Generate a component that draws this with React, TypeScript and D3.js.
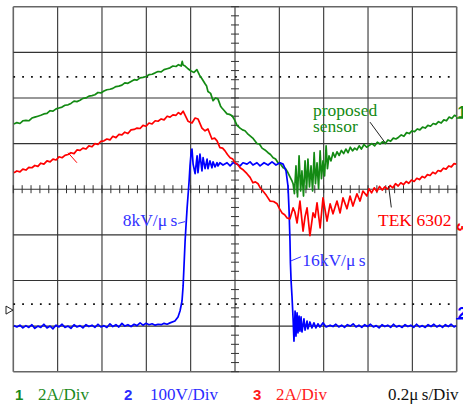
import React from 'react';
import * as d3 from 'd3';

// time in ns (0.2 us/div), amplitude in screen divisions (0 = centre line)
const ch1Proposed: [number, number][] = [
  [3, 1.43], [16, 1.46], [30, 1.44], [43, 1.5], [57, 1.51], [70, 1.5], [84, 1.56], [97, 1.58], [111, 1.6], [124, 1.62],
  [138, 1.65], [152, 1.66], [166, 1.72], [179, 1.71], [193, 1.76], [206, 1.78], [220, 1.8], [233, 1.84], [247, 1.85],
  [260, 1.88], [274, 1.93], [287, 1.92], [301, 1.95], [314, 1.99], [328, 2.0], [341, 2.04], [355, 2.05], [368, 2.07],
  [382, 2.12], [395, 2.11], [409, 2.15], [422, 2.18], [436, 2.19], [449, 2.21], [463, 2.25], [476, 2.26], [490, 2.28],
  [503, 2.33], [517, 2.32], [531, 2.36], [545, 2.4], [558, 2.39], [572, 2.44], [585, 2.45], [599, 2.47], [612, 2.51],
  [626, 2.52], [640, 2.55], [653, 2.58], [667, 2.57], [680, 2.62], [694, 2.64], [707, 2.66], [720, 2.7], [734, 2.69],
  [745, 2.73], [757, 2.7], [762, 2.8], [766, 2.72], [775, 2.7], [788, 2.64], [802, 2.59], [815, 2.56], [828, 2.62],
  [840, 2.5], [851, 2.42], [865, 2.31], [872, 2.26], [878, 2.14], [890, 2.1], [901, 1.94], [912, 2.0], [923, 1.98],
  [935, 1.82], [941, 1.78], [952, 1.72], [964, 1.65], [975, 1.64], [987, 1.61], [998, 1.52], [1009, 1.4], [1023, 1.34],
  [1034, 1.3], [1045, 1.28], [1056, 1.22], [1068, 1.17], [1080, 1.12], [1099, 1.0], [1110, 0.99], [1122, 0.9],
  [1135, 0.86], [1149, 0.8], [1160, 0.76], [1172, 0.69], [1183, 0.66], [1194, 0.58], [1205, 0.55], [1217, 0.47],
  [1228, 0.45], [1239, 0.36], [1248, 0.27], [1253, 0.22], [1258, 0.17], [1262, 0.12], [1268, -0.1], [1275, 0.51],
  [1282, -0.17], [1289, 0.73], [1296, -0.04], [1302, 0.4], [1309, -0.15], [1316, 0.62], [1323, 0.01], [1329, 0.66],
  [1336, 0.05], [1343, 0.51], [1350, -0.04], [1357, 0.8], [1363, 0.12], [1370, 0.58], [1377, 0.01], [1384, 0.84],
  [1390, 0.23], [1397, 0.62], [1404, 0.29], [1411, 0.95], [1417, 0.45], [1424, 0.73], [1433, 0.62], [1442, 0.8],
  [1451, 0.7], [1460, 0.82], [1470, 0.74], [1480, 0.85], [1490, 0.78], [1500, 0.88], [1510, 0.8], [1520, 0.92],
  [1530, 0.84], [1540, 0.9], [1550, 0.86], [1560, 0.95], [1570, 0.88], [1582, 0.98], [1594, 0.92], [1606, 0.96],
  [1618, 1.0], [1630, 0.95], [1642, 1.03], [1654, 0.99], [1666, 1.04], [1678, 1.0], [1690, 1.08], [1702, 1.05],
  [1714, 1.12], [1726, 1.1], [1738, 1.14], [1750, 1.19], [1762, 1.16], [1774, 1.24], [1786, 1.22], [1798, 1.28],
  [1810, 1.26], [1822, 1.32], [1834, 1.3], [1846, 1.36], [1858, 1.34], [1870, 1.4], [1882, 1.38], [1894, 1.44],
  [1906, 1.42], [1918, 1.48], [1930, 1.45], [1942, 1.52], [1954, 1.5], [1966, 1.58], [1978, 1.55], [1990, 1.62],
  [1998, 1.6],
];

const ch3Tek: [number, number][] = [
  [3, 0.36], [16, 0.4], [30, 0.38], [43, 0.44], [57, 0.42], [70, 0.48], [84, 0.47], [97, 0.52], [111, 0.5], [124, 0.57],
  [138, 0.55], [152, 0.62], [166, 0.6], [179, 0.66], [193, 0.64], [206, 0.71], [220, 0.69], [233, 0.74], [247, 0.76],
  [260, 0.8], [274, 0.78], [287, 0.86], [301, 0.85], [314, 0.9], [328, 0.88], [341, 0.95], [355, 0.93], [368, 1.0],
  [382, 0.98], [395, 1.05], [409, 1.06], [422, 1.1], [436, 1.08], [449, 1.16], [463, 1.13], [476, 1.2], [490, 1.19],
  [503, 1.25], [517, 1.22], [531, 1.3], [545, 1.31], [558, 1.34], [572, 1.33], [585, 1.4], [599, 1.38], [612, 1.45],
  [626, 1.43], [640, 1.5], [653, 1.49], [667, 1.54], [680, 1.52], [694, 1.6], [707, 1.58], [720, 1.63], [734, 1.62],
  [745, 1.68], [755, 1.64], [766, 1.71], [777, 1.6], [788, 1.49], [806, 1.45], [820, 1.56], [833, 1.54], [851, 1.34],
  [865, 1.28], [878, 1.32], [896, 1.1], [908, 1.12], [919, 1.06], [932, 0.91], [944, 0.9], [955, 0.84], [966, 0.76],
  [978, 0.69], [990, 0.66], [1000, 0.58], [1012, 0.54], [1023, 0.47], [1038, 0.42], [1054, 0.34], [1068, 0.26],
  [1081, 0.14], [1092, 0.16], [1104, 0.12], [1115, 0.02], [1126, -0.04], [1142, -0.14], [1158, -0.26], [1174, -0.27],
  [1190, -0.32], [1200, -0.42], [1212, -0.52], [1224, -0.56], [1235, -0.63], [1248, -0.65], [1262, -0.41],
  [1270, -0.5], [1280, -0.74], [1293, -0.26], [1307, -0.92], [1316, -0.6], [1325, -0.41], [1338, -1.02], [1352, -0.52],
  [1361, -0.62], [1370, -0.3], [1384, -0.85], [1397, -0.19], [1415, -0.7], [1429, -0.32], [1442, -0.54], [1460, -0.26],
  [1474, -0.52], [1487, -0.19], [1505, -0.43], [1519, -0.15], [1532, -0.37], [1550, -0.1], [1564, -0.26],
  [1577, -0.04], [1595, -0.15], [1604, 0.01], [1616, -0.08], [1628, 0.03], [1640, -0.05], [1652, 0.06], [1664, -0.02],
  [1676, 0.05], [1688, 0.0], [1700, 0.08], [1712, 0.03], [1724, 0.12], [1736, 0.07], [1748, 0.14], [1760, 0.1],
  [1772, 0.17], [1784, 0.13], [1796, 0.2], [1808, 0.17], [1820, 0.24], [1832, 0.21], [1844, 0.28], [1856, 0.25],
  [1868, 0.32], [1880, 0.3], [1892, 0.37], [1904, 0.34], [1916, 0.41], [1928, 0.39], [1940, 0.46], [1952, 0.44],
  [1964, 0.51], [1976, 0.49], [1988, 0.56], [1998, 0.55],
];

const ch2Voltage: [number, number][] = [
  [3, -2.99], [16, -3.02], [30, -2.98], [43, -3.04], [57, -2.99], [70, -3.03], [84, -2.97], [97, -3.05], [111, -3.0],
  [124, -3.03], [138, -2.96], [152, -3.04], [166, -3.0], [179, -3.06], [193, -2.98], [206, -3.02], [220, -2.96],
  [233, -3.03], [247, -3.0], [260, -3.05], [274, -2.97], [287, -3.02], [301, -2.99], [314, -3.04], [328, -2.97],
  [341, -3.01], [355, -2.98], [368, -3.03], [382, -2.96], [395, -3.02], [409, -2.99], [422, -3.03], [436, -2.95],
  [449, -3.01], [463, -2.97], [476, -3.02], [490, -2.94], [503, -3.0], [517, -2.97], [531, -3.01], [545, -2.96],
  [558, -2.99], [572, -2.93], [585, -2.98], [599, -2.94], [612, -2.97], [626, -2.95], [640, -2.98], [653, -2.96],
  [667, -2.97], [680, -2.94], [694, -2.96], [707, -2.93], [729, -2.89], [743, -2.8], [752, -2.67], [761, -2.45],
  [766, -2.12], [770, -1.68], [775, -1.13], [779, -0.8], [784, -0.41], [788, -0.15], [793, 0.18], [797, 0.51],
  [802, 0.8], [806, 0.88], [811, 0.55], [820, 0.34], [829, 0.73], [833, 0.36], [842, 0.77], [851, 0.4], [856, 0.69],
  [865, 0.45], [874, 0.66], [878, 0.45], [887, 0.62], [896, 0.47], [901, 0.6], [910, 0.49], [919, 0.58], [923, 0.51],
  [932, 0.58], [946, 0.53], [964, 0.58], [978, 0.51], [991, 0.58], [1009, 0.55], [1023, 0.51], [1036, 0.58],
  [1054, 0.55], [1068, 0.6], [1081, 0.53], [1099, 0.58], [1113, 0.51], [1131, 0.58], [1149, 0.53], [1167, 0.6],
  [1185, 0.53], [1203, 0.58], [1217, 0.55], [1230, 0.4], [1239, 0.07], [1244, -0.48], [1248, -1.13], [1250, -1.62],
  [1253, -2.01], [1257, -2.34], [1262, -2.84], [1266, -3.33], [1271, -2.67], [1275, -3.22], [1280, -2.71],
  [1284, -3.15], [1289, -2.78], [1293, -3.11], [1298, -2.8], [1302, -3.13], [1311, -2.84], [1316, -3.09],
  [1325, -2.89], [1329, -3.06], [1338, -2.91], [1347, -3.04], [1356, -2.93], [1365, -3.04], [1374, -2.95],
  [1383, -3.02], [1397, -2.93], [1411, -3.02], [1429, -2.98], [1442, -3.01], [1455, -2.96], [1468, -3.02],
  [1481, -2.98], [1494, -3.03], [1507, -2.97], [1520, -3.0], [1533, -2.95], [1546, -3.02], [1559, -2.98],
  [1572, -3.03], [1585, -2.97], [1598, -3.01], [1611, -2.96], [1624, -3.02], [1637, -2.99], [1650, -3.04],
  [1663, -2.97], [1676, -3.01], [1689, -2.98], [1702, -3.03], [1715, -2.96], [1728, -3.02], [1741, -2.99],
  [1754, -3.03], [1767, -2.97], [1780, -3.01], [1793, -2.98], [1806, -3.03], [1819, -2.96], [1832, -3.02],
  [1845, -2.99], [1858, -3.03], [1871, -2.97], [1884, -3.01], [1897, -2.96], [1910, -3.02], [1923, -2.98],
  [1936, -3.03], [1949, -2.97], [1962, -3.01], [1975, -2.96], [1988, -3.02], [1997, -2.99],
];

// dotted cursor levels (divisions)
const cursorLevels = [2.46, -2.52];

const legendItems = [
  { num: '1', label: '2A/Div', color: '#1b8a1b' },
  { num: '2', label: '100V/Div', color: '#2b2bff' },
  { num: '3', label: '2A/Div', color: '#ff1a1a' },
];
const timebase = '0.2\u03bc\u2009s/Div';

const GREEN = '#138a13';
const BLUE = '#0000ff';
const RED = '#ff0000';

export default function App() {
  const W = 463;
  const H = 412;
  const left = 13.3, right = 456.7, top = 6.7, bottom = 371.7;

  const x = d3.scaleLinear().domain([0, 2000]).range([left, right]);
  const y = d3.scaleLinear().domain([-4, 4]).range([bottom, top]);

  const line = d3.line<[number, number]>().x(d => x(d[0])).y(d => y(d[1]));

  const vGrid = d3.range(0, 2001, 200);
  const hGrid = d3.range(-4, 5, 1);
  const xMinor = d3.range(0, 2001, 40);
  const yMinor = d3.range(-40, 41, 2).map(v => v / 10);
  const cx = x(1000), cy = y(0);
  const serif = '"Liberation Serif", "Times New Roman", serif';
  const sans = '"Liberation Sans", Arial, sans-serif';

  return (
    <svg width={W} height={H} style={{ position: 'absolute', left: 0, top: 0, background: '#fff' }}>
      {/* graticule */}
      <g>
        {vGrid.map(t => (
          <line key={'v' + t} x1={x(t)} x2={x(t)} y1={top} y2={bottom}
            stroke={t === 0 || t === 2000 ? '#666' : '#333'} strokeWidth={t === 0 || t === 2000 ? 1.6 : 1.1} />
        ))}
        {hGrid.map(v => (
          <line key={'h' + v} x1={left} x2={right} y1={y(v)} y2={y(v)}
            stroke={v === -4 || v === 4 ? '#666' : '#333'} strokeWidth={v === -4 || v === 4 ? 1.6 : 1.1} />
        ))}
        {xMinor.map(t => (
          <line key={'xm' + t} x1={x(t)} x2={x(t)} y1={cy - 4} y2={cy + 4} stroke="#333" strokeWidth={1} />
        ))}
        {yMinor.map(v => (
          <line key={'ym' + v} x1={cx - 4} x2={cx + 4} y1={y(v)} y2={y(v)} stroke="#333" strokeWidth={1} />
        ))}
        {cursorLevels.map(v => (
          <line key={'c' + v} x1={left} x2={x(1970)} y1={y(v)} y2={y(v)}
            stroke="#111" strokeWidth={1.8} strokeDasharray={`1.8 ${(x(40) - x(0)) - 1.8}`} />
        ))}
        {/* trigger marker */}
        <path d={`M6,${y(-2.65) - 4} L13,${y(-2.65)} L6,${y(-2.65) + 4} Z`} fill="none" stroke="#222" strokeWidth={1} />
      </g>

      {/* traces */}
      <path d={line(ch1Proposed) || ''} fill="none" stroke={GREEN} strokeWidth={1.7} strokeLinejoin="round" />
      <path d={line(ch2Voltage) || ''} fill="none" stroke={BLUE} strokeWidth={1.7} strokeLinejoin="round" />
      <path d={line(ch3Tek) || ''} fill="none" stroke={RED} strokeWidth={1.7} strokeLinejoin="round" />

      {/* annotations */}
      <g fontFamily={serif} fontSize={17.5}>
        <line x1={x(247)} y1={y(0.8)} x2={x(287)} y2={y(0.58)} stroke={RED} strokeWidth={1} />
        <text x={x(740)} y={y(-0.8)} fill="#3333ff" textAnchor="end">8kV/μ{'\u2009'}s</text>
        <line x1={x(744)} y1={y(-0.75)} x2={x(775)} y2={y(-0.71)} stroke="#3333ff" strokeWidth={1} />
        <text x={x(1303)} y={y(-1.68)} fill="#3333ff">16kV/μ{'\u2009'}s</text>
        <line x1={x(1253)} y1={y(-1.57)} x2={x(1298)} y2={y(-1.48)} stroke="#3333ff" strokeWidth={1} />
        <text x={x(1645)} y={y(-0.8)} fill={RED}>TEK 6302</text>
        <line x1={x(1693)} y1={y(0.07)} x2={x(1705)} y2={y(-0.4)} stroke="#222" strokeWidth={1} />
        <text x={x(1352)} y={y(1.61)} fill={GREEN}>proposed</text>
        <text x={x(1352)} y={y(1.25)} fill={GREEN}>sensor</text>
        <line x1={x(1609)} y1={y(1.47)} x2={x(1677)} y2={y(1.02)} stroke="#222" strokeWidth={1} />
      </g>

      {/* channel markers at right edge */}
      <g fontFamily={sans} fontWeight="bold" fontSize={16}>
        <text x={457.5} y={y(1.56)} fill={GREEN}>1</text>
        <line x1={456} x2={463} y1={y(1.56)} y2={y(1.56)} stroke={GREEN} strokeWidth={1.5} />
        <text transform={`translate(457,${y(-0.83)}) rotate(90)`} textAnchor="middle" fill={RED} fontSize={15}>3</text>
        <text x={457.5} y={y(-2.84)} fill={BLUE}>2</text>
        <line x1={456} x2={463} y1={y(-2.84)} y2={y(-2.84)} stroke={BLUE} strokeWidth={1.5} />
      </g>

      {/* legend */}
      <g fontSize={17}>
        {legendItems.map((d, i) => {
          const xs = [15, 124, 253][i];
          const xl = [38, 150, 276][i];
          return (
            <g key={i}>
              <text x={xs} y={400} fill={d.color} fontFamily={sans} fontWeight="bold" fontSize={15}>{d.num}</text>
              <text x={xl} y={400} fill={d.color} fontFamily={serif}>{d.label}</text>
            </g>
          );
        })}
        <text x={388} y={400} fill="#111" fontFamily={serif}>{timebase}</text>
      </g>
    </svg>
  );
}
